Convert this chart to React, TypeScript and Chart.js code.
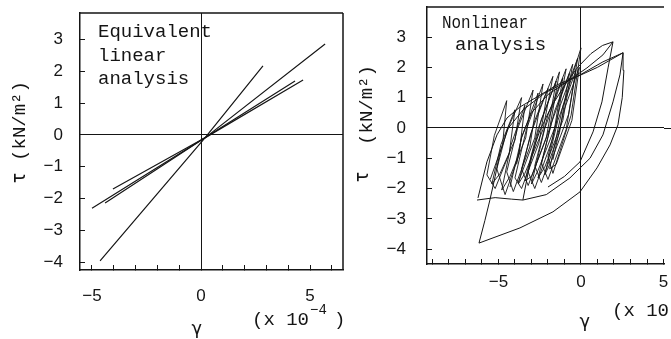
import React, { useEffect, useRef } from 'react';
import { Chart, registerables } from 'chart.js';

Chart.register(...registerables);

// ---------- Left panel: equivalent linear analysis (γ in 1e-4, τ in kN/m²) ----------
const eqLineA: number[][] = [[-4.63, -3.96], [0.18, -0.09], [2.84, 2.17]];
const eqLineB: number[][] = [[-5.0, -2.3], [0.18, -0.09], [5.69, 2.86]];
const eqLineC: number[][] = [[-4.4, -2.14], [0.18, -0.09], [4.68, 1.73]];
const eqLineD: number[][] = [[-4.04, -1.7], [0.18, -0.09], [4.31, 1.7]];

const leftXRange = [-5.55, 6.51];
const leftYRange = [-4.245, 3.836];
const leftXLabels = [-5, 0, 5];
const leftYLabels = [3, 2, 1, 0, -1, -2, -3, -4];

// ---------- Right panel: nonlinear analysis ----------
const nlLoopBig: number[][] = [
  [-6.18, -3.8], [-3.7, -3.3], [-1.7, -2.77], [-0.06, -2.11], [0.97, -1.32], [1.76, -0.56],
  [2.24, 0.1], [2.5, 1.0], [2.6, 1.9], [2.55, 2.48],
  [1.0, 2.0], [-0.6, 1.6], [-2.2, 1.15], [-3.5, 0.6], [-4.4, 0.0], [-4.9, -0.8],
  [-5.2, -1.6], [-5.52, -2.38], [-5.82, -3.05], [-6.18, -3.8],
];
const nlLoopMid: number[][] = [
  [-6.3, -2.38], [-5.2, -2.3], [-4.2, -2.35], [-3.52, -2.38], [-2.1, -2.2], [-0.67, -1.65],
  [0.55, -1.0], [1.33, -0.23], [1.94, 0.86], [2.36, 1.75], [2.55, 2.48],
  [1.33, 2.18], [-0.06, 1.75], [-1.45, 1.42], [-2.67, 1.02], [-3.7, 0.69], [-4.48, 0.33],
  [-5.09, -0.23], [-5.7, -1.12], [-6.24, -2.31],
];
const nlLoopUpper: number[][] = [
  [-3.52, -2.38], [-3.3, -1.75], [-3.0, -0.9], [-2.5, -0.1], [-1.8, 0.7], [-1.0, 1.4],
  [-0.2, 2.0], [0.6, 2.45], [1.3, 2.72], [1.94, 2.84],
  [1.64, 1.98], [1.27, 0.86], [0.73, -0.13], [-0.06, -1.12], [-1.0, -1.6], [-2.0, -1.95],
];
const nlLoopPeakA: number[][] = [
  [1.94, 2.84], [1.33, 2.41], [0.36, 1.98], [-0.85, 1.52], [-2.0, 1.1], [-3.0, 0.5],
  [-3.6, -0.3], [-3.9, -1.2],
];
const nlHatchLeft: number[][] = [
  [-5.5, -1.7], [-4.75, -0.55], [-4.5, 0.9], [-5.25, -0.25], [-5.7, -1.55],
  [-5.2, -2.0], [-4.35, -0.85], [-4.0, 0.6], [-4.85, -0.55], [-5.4, -1.85],
  [-4.9, -1.5], [-4.0, -0.4], [-3.6, 1.0], [-4.5, -0.1], [-5.1, -1.35],
  [-4.6, -2.2], [-3.75, -0.88], [-3.4, 0.75], [-4.25, -0.58], [-4.8, -2.05],
  [-4.3, -1.6], [-3.35, -0.33], [-2.9, 1.25], [-3.85, -0.03], [-4.5, -1.45],
  [-4.1, -2.1], [-3.1, -0.63], [-2.6, 1.15], [-3.6, -0.33], [-4.3, -1.95],
];
const nlHatchDense: number[][] = [
  [-3.8, -1.8], [-2.8, -0.33], [-2.3, 1.45], [-3.3, -0.03], [-4.0, -1.65],
  [-3.6, -2.0], [-2.55, -0.5], [-2.0, 1.3], [-3.05, -0.2], [-3.8, -1.85],
  [-3.4, -1.5], [-2.3, -0.05], [-1.7, 1.7], [-2.8, 0.25], [-3.6, -1.35],
  [-3.2, -1.9], [-2.1, -0.33], [-1.5, 1.55], [-2.6, -0.03], [-3.4, -1.75],
  [-3.0, -1.6], [-1.9, -0.02], [-1.3, 1.85], [-2.4, 0.28], [-3.2, -1.45],
  [-2.8, -2.0], [-1.7, -0.33], [-1.1, 1.65], [-2.2, -0.03], [-3.0, -1.85],
  [-2.6, -1.4], [-1.5, 0.13], [-0.9, 1.95], [-2.0, 0.43], [-2.8, -1.25],
  [-2.4, -1.8], [-1.3, -0.15], [-0.7, 1.8], [-1.8, 0.15], [-2.6, -1.65],
  [-2.2, -1.3], [-1.1, 0.25], [-0.5, 2.1], [-1.6, 0.55], [-2.4, -1.15],
  [-2.0, -1.7], [-0.9, -0.05], [-0.3, 1.9], [-1.4, 0.25], [-2.2, -1.55],
  [-1.8, -1.1], [-0.75, 0.45], [-0.2, 2.3], [-1.25, 0.75], [-2.0, -0.95],
  [-1.7, -1.5], [-0.6, 0.42], [0.0, 2.64], [-1.1, 0.72], [-1.9, -1.35],
  [-1.5, -1.2], [-0.55, 0.25], [-0.1, 2.0], [-1.05, 0.55], [-1.7, -1.05],
];

const rightXRange = [-9.33, 5.03];
const rightYRange = [-4.49, 3.99];
const rightXLabels = [-5, 0, 5];
const rightYLabels = [3, 2, 1, 0, -1, -2, -3, -4];

const INK = '#151515';
const MONO = "'Liberation Mono', 'DejaVu Sans Mono', monospace";
const GREEK = "'DejaVu Sans Mono', monospace";
const SANS = "'Liberation Sans', Arial, sans-serif";

type TextItem = {
  text: string; x: number; y: number; font: string;
  align?: CanvasTextAlign; baseline?: CanvasTextBaseline; rotate?: boolean; maxWidth?: number;
};

function makePlugin(id: string, sides: { top?: boolean; right?: boolean; zeroToEdge?: boolean }, texts: TextItem[]) {
  return {
    id,
    afterDraw(chart: any) {
      const { ctx, chartArea: a } = chart;
      ctx.save();
      ctx.strokeStyle = INK;
      ctx.lineWidth = 1.5;
      ctx.beginPath();
      if (sides.top) { ctx.moveTo(a.left, a.top); ctx.lineTo(a.right, a.top); }
      if (sides.right) { ctx.moveTo(a.right, a.top); ctx.lineTo(a.right, a.bottom); }
      ctx.stroke();
      if (sides.zeroToEdge) {
        const y0 = Math.round(chart.scales.y.getPixelForValue(0)) + 0.5;
        ctx.lineWidth = 1;
        ctx.beginPath();
        ctx.moveTo(a.right, y0); ctx.lineTo(chart.width, y0);
        ctx.stroke();
      }
      ctx.fillStyle = INK;
      for (const t of texts) {
        ctx.save();
        ctx.font = t.font;
        ctx.textAlign = t.align || 'left';
        ctx.textBaseline = t.baseline || 'alphabetic';
        ctx.translate(t.x, t.y);
        if (t.rotate) ctx.rotate(-Math.PI / 2);
        if (t.maxWidth) ctx.fillText(t.text, 0, 0, t.maxWidth);
        else ctx.fillText(t.text, 0, 0);
        ctx.restore();
      }
      ctx.restore();
    },
  };
}

const fmt = (v: number) => (v < 0 ? '\u2212' + Math.abs(v) : String(v));

function lineSet(pts: number[][], width: number, tension = 0) {
  return {
    data: pts.map(([x, y]) => ({ x, y })),
    showLine: true,
    borderColor: INK,
    borderWidth: width,
    pointRadius: 0,
    tension,
    fill: false,
  };
}

function clearPad(s: any) {
  s.paddingTop = 0; s.paddingBottom = 0; s.paddingLeft = 0; s.paddingRight = 0;
}

function buildOptions(
  xr: number[], yr: number[], xl: number[], yl: number[],
  pad: { left: number; right: number; top: number; bottom: number },
  yW: number, xH: number, yPad: number, xPad: number,
) {
  const grid = {
    color: (c: any) => (c.tick && Math.abs(c.tick.value) < 1e-9 ? INK : 'rgba(0,0,0,0)'),
    tickColor: INK,
    tickLength: -5,
    lineWidth: 1,
    drawOnChartArea: true,
    drawTicks: true,
  };
  return {
    animation: false as const,
    responsive: false,
    devicePixelRatio: 1,
    layout: { padding: pad },
    plugins: { legend: { display: false }, tooltip: { enabled: false } },
    scales: {
      x: {
        type: 'linear' as const,
        min: xr[0], max: xr[1],
        grid,
        border: { display: true, color: INK, width: 1.5 },
        ticks: {
          stepSize: 1, includeBounds: false, autoSkip: false, maxRotation: 0,
          padding: xPad, color: INK, font: { family: SANS, size: 17 },
          callback: (v: any) => (xl.includes(Number(v)) ? fmt(Number(v)) : ''),
        },
        afterFit: (s: any) => { s.height = xH; clearPad(s); },
      },
      y: {
        type: 'linear' as const,
        min: yr[0], max: yr[1],
        grid,
        border: { display: true, color: INK, width: 1.5 },
        ticks: {
          stepSize: 1, includeBounds: false, autoSkip: false,
          padding: yPad, color: INK, font: { family: SANS, size: 17 },
          callback: (v: any) => (yl.includes(Number(v)) ? fmt(Number(v)) : ''),
        },
        afterFit: (s: any) => { s.width = yW; clearPad(s); },
      },
    },
  };
}

function LeftChart() {
  const ref = useRef<HTMLCanvasElement>(null);
  useEffect(() => {
    const texts: TextItem[] = [
      { text: 'Equivalent', x: 98, y: 37, font: `19px ${MONO}` },
      { text: 'linear', x: 98, y: 61, font: `19px ${MONO}` },
      { text: 'analysis', x: 98, y: 84, font: `19px ${MONO}` },
      { text: '(kN/m\u00B2)', x: 20, y: 121, font: `19px ${MONO}`, align: 'center', baseline: 'middle', rotate: true },
      { text: '\u03C4', x: 20, y: 178, font: `19px ${GREEK}`, align: 'center', baseline: 'middle', rotate: true },
      { text: '\u03B3', x: 197, y: 329, font: `18px ${GREEK}`, align: 'center', baseline: 'middle' },
      { text: '(x 10', x: 252, y: 325, font: `19px ${MONO}` },
      { text: '\u22124', x: 310, y: 314, font: `14px ${MONO}` },
      { text: ')', x: 334, y: 325, font: `19px ${MONO}` },
    ];
    const chart = new Chart(ref.current!, {
      type: 'scatter',
      data: {
        datasets: [
          lineSet(eqLineA, 1.2), lineSet(eqLineB, 1.2), lineSet(eqLineC, 1.2), lineSet(eqLineD, 1.2),
        ],
      },
      options: buildOptions(leftXRange, leftYRange, leftXLabels, leftYLabels,
        { left: 40, right: 2, top: 13, bottom: 29 }, 40, 40, 22, 21) as any,
      plugins: [makePlugin('leftFrame', { top: true, right: true }, texts)],
    });
    return () => chart.destroy();
  }, []);
  return <canvas ref={ref} width={345} height={339} style={{ position: 'absolute', left: 0, top: 0, width: 345, height: 339 }} />;
}

function RightChart() {
  const ref = useRef<HTMLCanvasElement>(null);
  useEffect(() => {
    const texts: TextItem[] = [
      { text: 'Nonlinear', x: 97, y: 28, font: `19px ${MONO}`, maxWidth: 86 },
      { text: 'analysis', x: 110, y: 50, font: `19px ${MONO}` },
      { text: '(kN/m\u00B2)', x: 22, y: 105, font: `19px ${MONO}`, align: 'center', baseline: 'middle', rotate: true },
      { text: '\u03C4', x: 18, y: 177, font: `19px ${GREEK}`, align: 'center', baseline: 'middle', rotate: true },
      { text: '\u03B3', x: 240, y: 322, font: `18px ${GREEK}`, align: 'center', baseline: 'middle' },
      { text: '(x 10', x: 267, y: 316, font: `19px ${MONO}` },
    ];
    const chart = new Chart(ref.current!, {
      type: 'scatter',
      data: {
        datasets: [
          lineSet(nlLoopBig, 1), lineSet(nlLoopMid, 1), lineSet(nlLoopUpper, 1), lineSet(nlLoopPeakA, 1),
          lineSet(nlHatchLeft, 0.9), lineSet(nlHatchDense, 0.9),
        ],
      },
      options: buildOptions(rightXRange, rightYRange, rightXLabels, rightYLabels,
        { left: 42, right: 7, top: 7, bottom: 35 }, 40, 40, 26, 13) as any,
      plugins: [makePlugin('rightFrame', { top: true, zeroToEdge: true }, texts)],
    });
    return () => chart.destroy();
  }, []);
  return <canvas ref={ref} width={326} height={339} style={{ position: 'absolute', left: 345, top: 0, width: 326, height: 339 }} />;
}

export default function App() {
  return (
    <div style={{ position: 'fixed', left: 0, top: 0, width: 671, height: 339, background: '#fff', overflow: 'hidden' }}>
      <LeftChart />
      <RightChart />
    </div>
  );
}
